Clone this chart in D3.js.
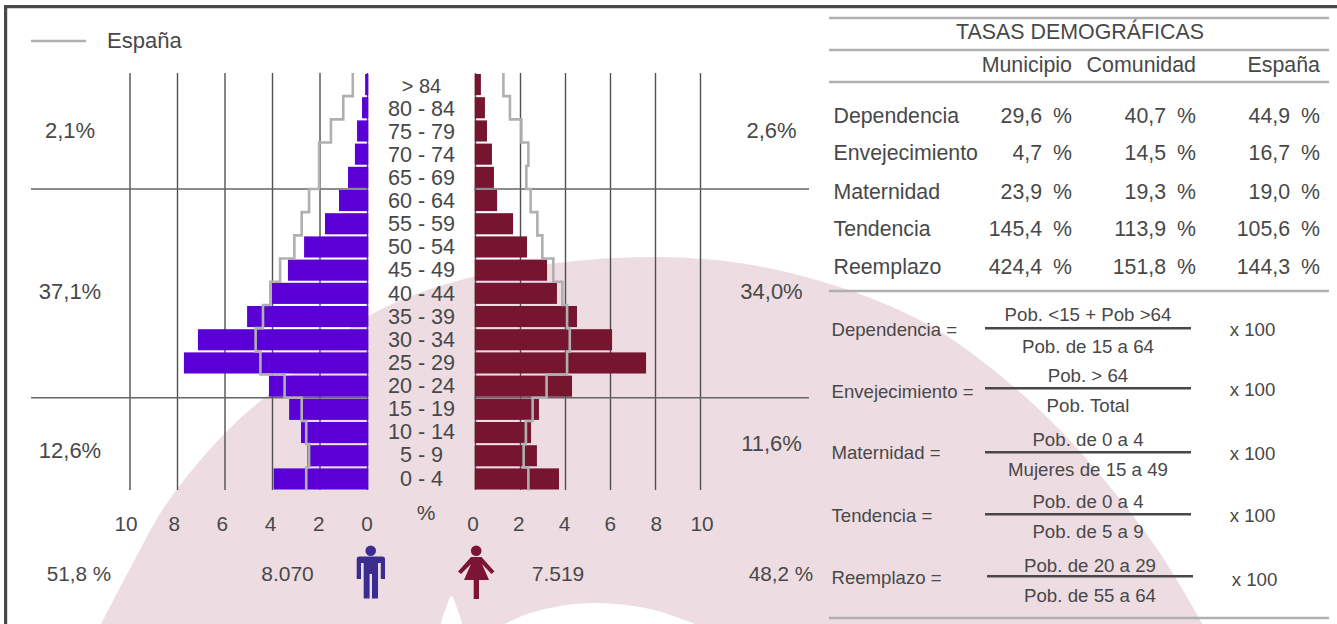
<!DOCTYPE html>
<html lang="es"><head><meta charset="utf-8">
<style>
html,body{margin:0;padding:0;background:#fff}
svg{display:block}
text{font-family:"Liberation Sans",Arial,sans-serif;fill:#484848}
</style>
<script src="https://cdn.jsdelivr.net/npm/d3@7/dist/d3.min.js"></script>
</head><body><svg id="c" width="1337" height="624"></svg>
<script>
const ages=["> 84","80 - 84","75 - 79","70 - 74","65 - 69","60 - 64","55 - 59","50 - 54","45 - 49","40 - 44","35 - 39","30 - 34","25 - 29","20 - 24","15 - 19","10 - 14","5 - 9","0 - 4"];
const male=[0.1,0.23,0.44,0.53,0.82,1.2,1.79,2.67,3.35,4.03,5.07,7.14,7.73,4.15,3.3,2.8,2.53,3.95];
const female=[0.24,0.42,0.51,0.73,0.82,0.96,1.67,2.29,3.18,3.62,4.51,6.07,7.58,4.29,2.82,2.47,2.73,3.71];
const spainMale=[0.62,1.02,1.54,2.04,2.04,2.46,2.77,3.08,3.68,4.09,4.4,4.71,4.51,3.49,2.77,2.58,2.46,2.58];
const spainFemale=[1.24,1.53,2.04,2.35,2.26,2.45,2.75,2.97,3.46,3.86,4.07,4.19,4.07,3.16,2.54,2.24,2.14,2.35];
const ticks=[0,2,4,6,8,10];
const groupLeft=["2,1%","37,1%","12,6%"];
const groupRight=["2,6%","34,0%","11,6%"];
const rateNames=["Dependencia","Envejecimiento","Maternidad","Tendencia","Reemplazo"];
const rateColumns=["Municipio","Comunidad","España"];
const rateMunicipio=["29,6","4,7","23,9","145,4","424,4"];
const rateComunidad=["40,7","14,5","19,3","113,9","151,8"];
const rateEspana=["44,9","16,7","19,0","105,6","144,3"];
const numerators=["Pob. <15 + Pob >64","Pob. > 64","Pob. de 0 a 4","Pob. de 0 a 4","Pob. de 20 a 29"];
const denominators=["Pob. de 15 a 64","Pob. Total","Mujeres de 15 a 49","Pob. de 5 a 9","Pob. de 55 a 64"];

const svg=d3.select("#c");
const DARK="#484848",GRID="#505050",RULE="#b0b0b0",PINK="#eddde3",BLUE="#5a00d6",WINE="#75152f";

// watermark
const blob=[[96,634],[133,563],[167,503],[225,433],[270,393],[367,317],[450,283],[557,263],[650,257],[740,263],[820,281],[890,306],[953,340],[1053,423],[1153,543],[1208,634]];
svg.append("path").attr("fill",PINK)
  .attr("d",d3.line().curve(d3.curveCatmullRom)(blob)+"Z");
svg.append("path").attr("fill","#fff")
  .attr("d",d3.line().curve(d3.curveCatmullRom)([[440,626],[446,608],[451.5,596],[457,608],[463,626]]));
svg.append("path").attr("fill","#fff")
  .attr("d",d3.line().curve(d3.curveCatmullRom)([[497,628],[530,613],[590,603],[650,609],[705,628]]));

// frame
svg.append("path").attr("fill","none").attr("stroke",DARK).attr("stroke-width",3.2)
  .attr("d","M5.6,630V6.6H1340");

// scales
const xM=d3.scaleLinear().domain([0,10]).range([367.5,130]);
const xF=d3.scaleLinear().domain([0,10]).range([475.5,700.5]);
const xMl=d3.scaleLinear().domain([0,10]).range([367,126]);
const xFl=d3.scaleLinear().domain([0,10]).range([473,702]);
const y=d3.scaleBand().domain(ages).range([74,489.5]).paddingInner(0.09).paddingOuter(0.0);
const yLabel=d3.scalePoint().domain(ages).range([85,478]);
const gridBottom=490,gridTop=73;

// gridlines with axes
function grid(scale){
  const g=svg.append("g").attr("transform",`translate(0,${gridBottom})`)
    .call(d3.axisBottom(scale).offset(0).tickValues(ticks).tickSize(-(gridBottom-gridTop)).tickFormat(""));
  g.select(".domain").remove();
  g.selectAll("line").attr("stroke",GRID).attr("stroke-width",1.4);
}
grid(xM);grid(xF);

// bars
const over=0.8;
svg.append("g").selectAll("rect").data(male).join("rect")
  .attr("x",d=>xM(d)).attr("width",d=>xM(0)-xM(d)+over)
  .attr("y",(d,i)=>y(ages[i])).attr("height",y.bandwidth()).attr("fill",BLUE);
svg.append("g").selectAll("rect").data(female).join("rect")
  .attr("x",xF(0)-over).attr("width",d=>xF(d)-xF(0)+over)
  .attr("y",(d,i)=>y(ages[i])).attr("height",y.bandwidth()).attr("fill",WINE);

// horizontal dividers
["65 - 69","20 - 24"].forEach(a=>{
  const yy=y(a)+y.bandwidth()+y.step()*y.paddingInner()/2;
  [[31,xM(0)],[xF(0)-1.5,809]].forEach(([a0,a1])=>
    svg.append("line").attr("x1",a0).attr("x2",a1).attr("y1",yy).attr("y2",yy)
      .attr("stroke","#666").attr("stroke-width",1.6));
});

// Spain outline
function spain(values,scale){
  const s=y.step();
  const pts=values.map((v,i)=>[scale(v),i===0?gridTop:y(ages[i])-(s-y.bandwidth())/2]);
  pts.push([scale(values[values.length-1]),gridBottom+0.5]);
  svg.append("path").attr("fill","none").attr("stroke",RULE).attr("stroke-width",2.6)
    .attr("d",d3.line().curve(d3.curveStepBefore)(pts));
}
spain(spainMale,xM);spain(spainFemale,xF);

function t(x,yy,s,size,anchor){
  return svg.append("text").attr("x",x).attr("y",yy).attr("font-size",size)
    .attr("text-anchor",anchor||"start").text(s);
}
// legend
svg.append("line").attr("x1",31).attr("x2",86).attr("y1",41).attr("y2",41).attr("stroke",RULE).attr("stroke-width",2.6);
t(107,48,"España",22);

// age labels
svg.append("g").selectAll("text").data(ages).join("text")
  .attr("x",421.5).attr("y",(d,i)=>yLabel(d)+7.5+(i===0?0.3:0))
  .attr("text-anchor","middle").attr("font-size",(d,i)=>i===0?20:21.6).text(d=>d);

// tick labels via axes
function tickAxis(scale){
  const g=svg.append("g").attr("transform","translate(0,530.5)")
    .call(d3.axisBottom(scale).offset(0).tickValues(ticks).tickSize(0).tickPadding(0));
  g.select(".domain").remove();
  g.selectAll("text").attr("font-size",20.8).attr("font-family",null).attr("dy",0).attr("y",0).attr("fill",null);
}
tickAxis(xMl);tickAxis(xFl);
t(426,519.5,"%",21,"middle");

// group percentages
[137.5,298.5,457.5].forEach((yy,i)=>t(70,yy,groupLeft[i],22,"middle"));
[137.5,298.5,450.5].forEach((yy,i)=>t(771.5,yy,groupRight[i],22,"middle"));

// totals
t(79,580.5,"51,8 %",20.7,"middle");
t(287.5,580.5,"8.070",21,"middle");
t(558,580.5,"7.519",21,"middle");
t(781,580.5,"48,2 %",20.7,"middle");

// icons
const man=svg.append("g").attr("fill","#3b2d90");
man.append("circle").attr("cx",370.7).attr("cy",550.7).attr("r",5.3);
man.append("path").attr("d","M359,556.5H382.5Q385,556.5 385,559V579H380.8V563H378V598.5H372V574H369.6V598.5H363.7V563H361V579H356.7V559Q356.7,556.5 359,556.5Z");
const woman=svg.append("g").attr("fill","#7b1533");
woman.append("circle").attr("cx",476.2).attr("cy",550.7).attr("r",5.3);
woman.append("path").attr("d","M471,557H481.5L494.5,571.5L491.5,574L482,564L489,580H479V599H473.7V580H464L471,564L461,574L458,571.5Z");

// table rules
[18,50,82,291,618].forEach(yy=>svg.append("line").attr("x1",829).attr("x2",1329)
  .attr("y1",yy).attr("y2",yy).attr("stroke",RULE).attr("stroke-width",2.6));

t(1080,39,"TASAS DEMOGRÁFICAS",21.4,"middle");
[1072,1196,1320].forEach((x,i)=>t(x,72,rateColumns[i],21.4,"end"));
const rowY=[123,160,199,236,274];
rateNames.forEach((n,i)=>{
  t(833.5,rowY[i],n,21.3);
  [[rateMunicipio,1042,1072],[rateComunidad,1166,1196],[rateEspana,1290,1320]].forEach(([arr,vx,px])=>{
    t(vx,rowY[i],arr[i],21.3,"end");
    t(px,rowY[i],"%",21.3,"end");
  });
});

// formulas
const fLabelY=[336,398,459,522,584];
const fLineY=[328.3,388.3,452.3,514.3,576.3];
const fNumY=[321,382,446,508,572];
const fDenY=[353,412,476,538,602];
const fTimesY=[336,396,460,522,586];
rateNames.forEach((n,i)=>{
  const dx=i===4?2:0;
  t(831.5,fLabelY[i],n+" =",18.6);
  svg.append("line").attr("x1",985+dx).attr("x2",1191+dx).attr("y1",fLineY[i]).attr("y2",fLineY[i])
    .attr("stroke",DARK).attr("stroke-width",2.6);
  t(1088+dx,fNumY[i],numerators[i],18.7,"middle");
  t(1088+dx,fDenY[i],denominators[i],18.7,"middle");
  t(1252.5+dx,fTimesY[i],"x 100",18.7,"middle");
});
</script></body></html>
